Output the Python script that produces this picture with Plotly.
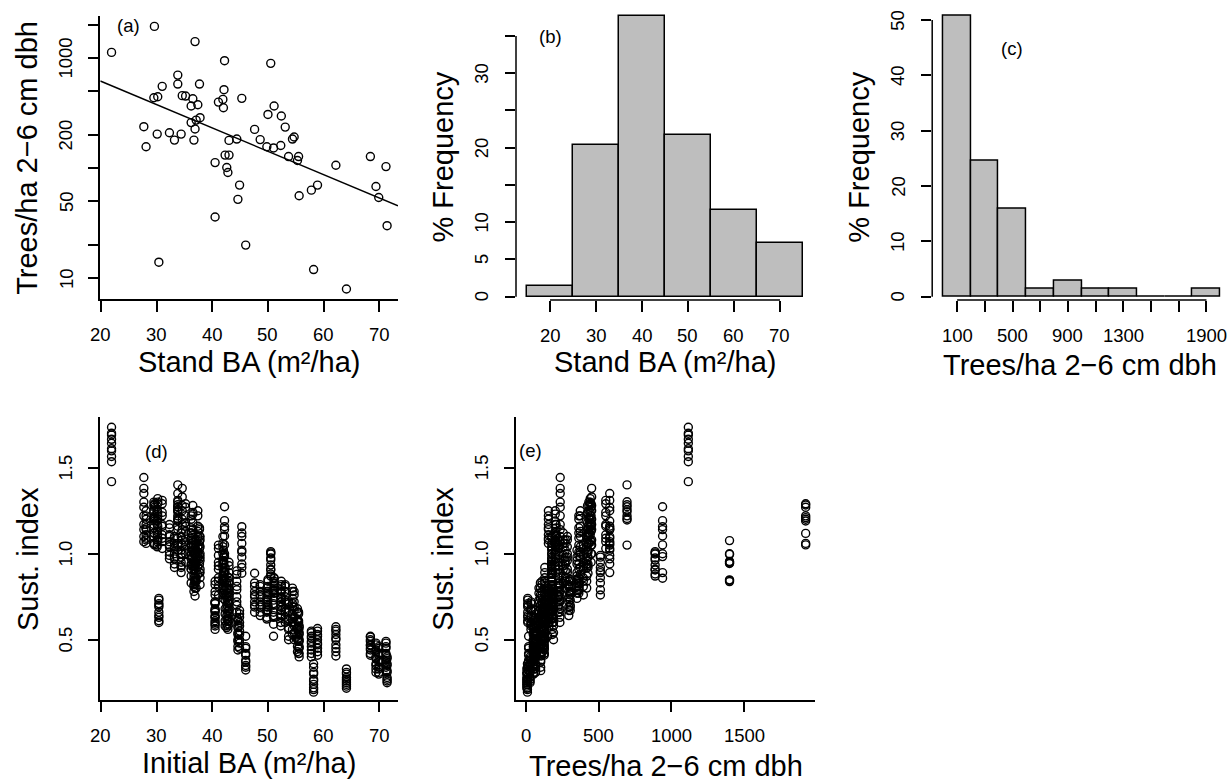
import numpy as np
import plotly.graph_objects as go

# ---- stand-level data (one entry per stand) ----
stand_ba = [21.9, 29.6, 36.9, 42.2, 50.5, 33.8, 33.8, 31.0, 37.7, 42.1,
            29.5, 30.2, 34.6, 35.2, 36.5, 37.4, 36.2, 41.1, 41.9, 42.0,
            45.3, 51.1, 50.0, 52.4, 53.1, 37.8, 37.1, 36.2, 36.9, 27.7,
            47.6, 30.1, 32.3, 34.4, 33.2, 36.7, 28.1, 43.0, 44.4, 48.6,
            49.8, 51.0, 52.3, 54.4, 54.7, 42.3, 43.0, 53.7, 55.3, 55.5,
            40.5, 42.6, 42.8, 62.2, 68.4, 71.2, 44.9, 58.9, 57.8, 69.4,
            69.9, 55.6, 44.6, 40.5, 71.4, 46.0, 30.4, 58.2, 64.1]

trees_ha = [1117, 1923, 1400, 940, 889, 696, 577, 550, 577, 513,
            434, 443, 453, 449, 425, 375, 365, 396, 419, 352,
            428, 365, 306, 296, 235, 286, 272, 258, 226, 237,
            224, 203, 209, 203, 179, 179, 156, 178, 183, 181,
            156, 152, 160, 183, 191, 131, 131, 127, 117, 127,
            112, 101, 91, 106, 127, 103, 70, 70, 63, 68,
            54, 56, 52, 36, 30, 20, 14, 12, 8]

# sustainability index of each simulation run, one row per stand
sust_index = [
    [1.735, 1.70, 1.69, 1.665, 1.642, 1.61, 1.598, 1.565, 1.535, 1.419],
    [1.29, 1.283, 1.27, 1.22, 1.21, 1.20, 1.19, 1.118, 1.06, 1.051],
    [1.076, 1.0, 0.996, 0.955, 0.951, 0.946, 0.943, 0.848, 0.845, 0.838],
    [1.273, 1.192, 1.157, 1.14, 1.103, 1.051, 1.0, 0.983, 0.89, 0.857],
    [1.012, 1.005, 0.998, 0.975, 0.963, 0.934, 0.91, 0.905, 0.882, 0.87],
    [1.40, 1.302, 1.285, 1.273, 1.255, 1.244, 1.22, 1.205, 1.196, 1.05],
    [1.35, 1.31, 1.27, 1.25, 1.19, 1.16, 1.14, 1.09, 1.06, 1.02],
    [1.31, 1.29, 1.24, 1.22, 1.17, 1.16, 1.11, 1.09, 1.07, 1.03],
    [1.15, 1.14, 1.10, 1.07, 1.05, 1.03, 0.99, 0.97, 0.94, 0.89],
    [0.99, 0.98, 0.95, 0.92, 0.90, 0.89, 0.86, 0.83, 0.79, 0.76],
    [1.30, 1.28, 1.25, 1.21, 1.20, 1.17, 1.15, 1.12, 1.10, 1.06],
    [1.32, 1.30, 1.29, 1.24, 1.22, 1.20, 1.16, 1.14, 1.11, 1.08],
    [1.38, 1.33, 1.28, 1.25, 1.20, 1.17, 1.14, 1.08, 1.05, 1.00],
    [1.29, 1.27, 1.22, 1.18, 1.16, 1.13, 1.07, 1.05, 1.00, 0.95],
    [1.28, 1.24, 1.23, 1.18, 1.14, 1.11, 1.08, 1.02, 0.98, 0.93],
    [1.25, 1.22, 1.16, 1.13, 1.10, 1.04, 1.01, 0.98, 0.92, 0.88],
    [1.22, 1.20, 1.15, 1.12, 1.09, 1.05, 1.01, 0.99, 0.94, 0.91],
    [1.05, 1.03, 0.99, 0.95, 0.93, 0.91, 0.86, 0.84, 0.81, 0.76],
    [1.10, 1.06, 1.04, 1.00, 0.96, 0.94, 0.92, 0.87, 0.84, 0.80],
    [1.02, 0.98, 0.96, 0.94, 0.89, 0.87, 0.85, 0.81, 0.77, 0.74],
    [1.157, 1.12, 1.10, 1.06, 1.02, 1.01, 0.98, 0.94, 0.92, 0.886],
    [0.86, 0.855, 0.84, 0.83, 0.825, 0.81, 0.80, 0.79, 0.785, 0.77],
    [0.85, 0.84, 0.81, 0.78, 0.77, 0.76, 0.73, 0.70, 0.69, 0.67],
    [0.84, 0.82, 0.81, 0.78, 0.75, 0.74, 0.72, 0.69, 0.67, 0.64],
    [0.82, 0.81, 0.78, 0.75, 0.73, 0.72, 0.68, 0.66, 0.63, 0.60],
    [1.10, 1.08, 1.04, 1.00, 0.98, 0.96, 0.91, 0.89, 0.86, 0.82],
    [1.08, 1.06, 1.02, 0.98, 0.96, 0.94, 0.90, 0.86, 0.84, 0.80],
    [1.12, 1.08, 1.06, 1.04, 0.99, 0.97, 0.93, 0.91, 0.87, 0.83],
    [1.05, 1.03, 0.99, 0.95, 0.93, 0.91, 0.86, 0.83, 0.80, 0.754],
    [1.443, 1.38, 1.35, 1.30, 1.27, 1.22, 1.17, 1.14, 1.10, 1.07],
    [0.886, 0.83, 0.81, 0.78, 0.76, 0.75, 0.72, 0.70, 0.69, 0.66],
    [1.25, 1.23, 1.19, 1.17, 1.13, 1.11, 1.08, 1.07, 1.05, 1.04],
    [1.17, 1.15, 1.11, 1.10, 1.07, 1.05, 1.04, 1.01, 0.99, 0.97],
    [1.12, 1.10, 1.06, 1.02, 1.00, 0.98, 0.95, 0.93, 0.92, 0.89],
    [1.10, 1.09, 1.06, 1.04, 1.03, 1.00, 0.98, 0.97, 0.94, 0.92],
    [1.02, 1.00, 0.96, 0.93, 0.91, 0.88, 0.86, 0.82, 0.81, 0.78],
    [1.25, 1.22, 1.20, 1.17, 1.15, 1.14, 1.11, 1.09, 1.08, 1.06],
    [0.95, 0.93, 0.89, 0.86, 0.84, 0.80, 0.77, 0.75, 0.71, 0.68],
    [0.90, 0.88, 0.84, 0.81, 0.79, 0.75, 0.72, 0.70, 0.66, 0.63],
    [0.82, 0.81, 0.78, 0.76, 0.75, 0.72, 0.70, 0.69, 0.66, 0.64],
    [0.80, 0.78, 0.75, 0.73, 0.72, 0.69, 0.67, 0.66, 0.63, 0.62],
    [0.78, 0.77, 0.73, 0.71, 0.70, 0.66, 0.64, 0.63, 0.59, 0.52],
    [0.79, 0.77, 0.74, 0.72, 0.70, 0.67, 0.65, 0.63, 0.60, 0.58],
    [0.80, 0.78, 0.74, 0.71, 0.69, 0.65, 0.62, 0.60, 0.56, 0.53],
    [0.78, 0.76, 0.72, 0.69, 0.67, 0.63, 0.60, 0.58, 0.54, 0.50],
    [0.92, 0.89, 0.84, 0.81, 0.76, 0.73, 0.68, 0.65, 0.61, 0.58],
    [0.86, 0.83, 0.79, 0.77, 0.73, 0.71, 0.67, 0.65, 0.61, 0.59],
    [0.72, 0.71, 0.67, 0.66, 0.62, 0.61, 0.57, 0.56, 0.52, 0.50],
    [0.68, 0.66, 0.62, 0.61, 0.57, 0.56, 0.52, 0.50, 0.46, 0.43],
    [0.66, 0.65, 0.61, 0.60, 0.56, 0.55, 0.51, 0.49, 0.45, 0.42],
    [0.84, 0.82, 0.78, 0.76, 0.72, 0.71, 0.67, 0.66, 0.63, 0.61],
    [0.83, 0.80, 0.76, 0.74, 0.70, 0.68, 0.64, 0.62, 0.59, 0.57],
    [0.80, 0.77, 0.73, 0.71, 0.67, 0.65, 0.62, 0.61, 0.58, 0.56],
    [0.575, 0.56, 0.55, 0.53, 0.51, 0.50, 0.47, 0.45, 0.43, 0.405],
    [0.52, 0.515, 0.50, 0.49, 0.47, 0.465, 0.45, 0.44, 0.42, 0.41],
    [0.49, 0.48, 0.46, 0.45, 0.42, 0.41, 0.38, 0.37, 0.34, 0.32],
    [0.67, 0.65, 0.63, 0.60, 0.58, 0.55, 0.53, 0.50, 0.48, 0.45],
    [0.565, 0.55, 0.53, 0.52, 0.50, 0.48, 0.47, 0.45, 0.43, 0.41],
    [0.55, 0.54, 0.52, 0.51, 0.49, 0.48, 0.46, 0.44, 0.42, 0.40],
    [0.48, 0.47, 0.44, 0.43, 0.40, 0.39, 0.36, 0.35, 0.33, 0.31],
    [0.46, 0.45, 0.42, 0.41, 0.38, 0.37, 0.34, 0.33, 0.31, 0.30],
    [0.58, 0.57, 0.54, 0.53, 0.50, 0.49, 0.46, 0.45, 0.42, 0.40],
    [0.62, 0.61, 0.58, 0.57, 0.54, 0.53, 0.50, 0.49, 0.46, 0.44],
    [0.72, 0.71, 0.68, 0.67, 0.64, 0.63, 0.60, 0.59, 0.58, 0.56],
    [0.40, 0.39, 0.36, 0.35, 0.32, 0.31, 0.28, 0.27, 0.26, 0.25],
    [0.52, 0.46, 0.45, 0.42, 0.41, 0.38, 0.37, 0.35, 0.34, 0.324],
    [0.74, 0.73, 0.71, 0.70, 0.69, 0.66, 0.64, 0.63, 0.61, 0.60],
    [0.36, 0.34, 0.31, 0.30, 0.27, 0.26, 0.24, 0.22, 0.21, 0.195],
    [0.33, 0.31, 0.30, 0.28, 0.27, 0.26, 0.25, 0.24, 0.23, 0.218],
]
assert len(stand_ba) == len(trees_ha) == len(sust_index)

# log10(trees/ha) = fit_intercept + fit_slope * BA
fit_intercept = 3.209
fit_slope = -0.02115

# histogram breaks
ba_breaks = [15, 25, 35, 45, 55, 65, 75]
trees_breaks = [0, 200, 400, 600, 800, 1000, 1200, 1400, 1600, 1800, 2000]

# axis ticks: labelled ticks and unlabelled ticks
ba_ticks = [20, 30, 40, 50, 60, 70]
trees_log_labelled = [10, 50, 200, 1000]
trees_log_plain = [20, 100, 500, 2000]
freq_b_labelled = [0, 5, 10, 20, 30]
freq_b_plain = [15, 25, 35]
freq_c_ticks = [0, 10, 20, 30, 40, 50]
trees_mid_labelled = [100, 500, 900, 1300, 1900]
trees_mid_plain = [300, 700, 1100, 1500, 1700]
sust_ticks = [0.5, 1.0, 1.5]
sust_labels = ["0.5", "1.0", "1.5"]
trees_lin_ticks = [0, 500, 1000, 1500]

# ---- layout constants ----
W, H = 1229, 782
FONT = "Liberation Sans, Arial, Helvetica, sans-serif"
LW = 1.5          # line width of axes, boxes and bar outlines
TL = 10.5         # tick length
TICK_FONT = 18.5
TITLE_FONT = 29
PANEL_FONT = 18.5
BAR_FILL = "#BEBEBE"
XLAB_GAP = 35.5   # axis line -> centre of x tick labels
YLAB_GAP = 34.5   # axis line -> centre of y tick labels

# plot regions in pixels: (left, right, top, bottom)
box_a = (100.3, 398.0, 15.7, 299.3)
box_b = (516.0, 814.0, 12.1, 300.0)
box_c = (932.2, 1229.0, 11.7, 300.0)
box_d = (100.3, 398.0, 417.3, 700.0)
box_e = (516.0, 815.0, 417.3, 700.0)

rng_ba = [19.88, 73.36]
rng_a_y = [0.8096, 3.381]          # log10 units
rng_b_x = [12.6, 77.4]
rng_b_y = [-0.443, 38.2]
rng_c_x = [-80, 2062.8]
rng_c_y = [-0.6, 51.5]
rng_sust = [0.1494, 1.793]
rng_e_x = [-66.6, 1987]


def hist_percent(values, breaks):
    """Right-closed bins like R's hist(); returns centres, widths, percents."""
    edges = np.asarray(breaks, dtype=float)
    v = np.asarray(values, dtype=float)
    idx = np.searchsorted(edges, v, side="left") - 1
    idx[idx < 0] = 0
    counts = np.bincount(idx, minlength=len(edges) - 1)[: len(edges) - 1]
    pct = 100.0 * counts / len(v)
    centres = (edges[:-1] + edges[1:]) / 2
    widths = np.diff(edges)
    return centres, widths, pct


def base_axis(rng, tickvals, anchor, showline):
    return dict(range=rng, tickvals=sorted(tickvals), showticklabels=False,
                ticks="outside", ticklen=TL, tickwidth=LW, tickcolor="black",
                showline=showline, linecolor="black", linewidth=LW,
                showgrid=False, zeroline=False, anchor=anchor)


def xaxis(box, rng, tickvals, anchor, showline):
    d = base_axis(rng, tickvals, anchor, showline)
    d["domain"] = [box[0] / W, min(box[1] / W, 1.0)]
    return d


def yaxis(box, rng, tickvals, anchor, showline, **kw):
    d = base_axis(rng, tickvals, anchor, showline)
    d["domain"] = [1 - box[3] / H, 1 - box[2] / H]
    d.update(kw)
    return d


marker = dict(symbol="circle-open", size=8, color="black",
              line=dict(width=1.4, color="black"))

fig = go.Figure()

# (a) stand BA vs small-tree density, log scale, with fitted line
fig.add_trace(go.Scatter(x=stand_ba, y=trees_ha, mode="markers",
                         marker=marker, xaxis="x", yaxis="y", cliponaxis=False))
fit_x = np.array(rng_ba)
fig.add_trace(go.Scatter(x=fit_x, y=10 ** (fit_intercept + fit_slope * fit_x),
                         mode="lines", line=dict(color="black", width=LW),
                         xaxis="x", yaxis="y"))

# (b) histogram of stand BA
cb, wb, pb = hist_percent(stand_ba, ba_breaks)
fig.add_trace(go.Bar(x=cb, y=pb, width=wb, xaxis="x2", yaxis="y2",
                     marker=dict(color=BAR_FILL,
                                 line=dict(color="black", width=LW))))

# (c) histogram of small-tree density
cc, wc, pc = hist_percent(trees_ha, trees_breaks)
fig.add_trace(go.Bar(x=cc, y=pc, width=wc, xaxis="x3", yaxis="y3",
                     marker=dict(color=BAR_FILL,
                                 line=dict(color="black", width=LW))))

# (d), (e) sustainability index of every run
run_ba = [ba for ba, row in zip(stand_ba, sust_index) for _ in row]
run_trees = [t for t, row in zip(trees_ha, sust_index) for _ in row]
run_sust = [v for row in sust_index for v in row]
fig.add_trace(go.Scatter(x=run_ba, y=run_sust, mode="markers", marker=marker,
                         xaxis="x4", yaxis="y4", cliponaxis=False))
fig.add_trace(go.Scatter(x=run_trees, y=run_sust, mode="markers", marker=marker,
                         xaxis="x5", yaxis="y5", cliponaxis=False))

# axis lines of the histograms span only the tick range
shapes = []
for xr, yr, xt, yt in (("x2", "y2", ba_ticks, freq_b_labelled + freq_b_plain),
                       ("x3", "y3", trees_mid_labelled + trees_mid_plain,
                        freq_c_ticks)):
    shapes.append(dict(type="line", xref=xr, yref=yr + " domain",
                       x0=min(xt), x1=max(xt), y0=0, y1=0,
                       line=dict(color="black", width=LW)))
    shapes.append(dict(type="line", xref=xr + " domain", yref=yr,
                       x0=0, x1=0, y0=min(yt), y1=max(yt),
                       line=dict(color="black", width=LW)))


def ann(text, px, py, size, angle=0):
    return dict(text=text, x=px / W, y=1 - py / H, xref="paper", yref="paper",
                showarrow=False, textangle=angle, xanchor="center",
                yanchor="middle",
                font=dict(family=FONT, size=size, color="black"))


def x_tick_labels(xref, vals, box, texts=None):
    texts = texts or [str(v) for v in vals]
    py = box[3] + XLAB_GAP
    return [dict(text=t, x=v, xref=xref, y=1 - py / H, yref="paper",
                 showarrow=False, xanchor="center", yanchor="middle",
                 font=dict(family=FONT, size=TICK_FONT, color="black"))
            for v, t in zip(vals, texts)]


def y_tick_labels(yref, vals, box, texts=None, log=False):
    texts = texts or [str(v) for v in vals]
    px = box[0] - YLAB_GAP
    return [dict(text=t, x=px / W, xref="paper",
                 y=float(np.log10(v)) if log else v, yref=yref,
                 showarrow=False, xanchor="center", yanchor="middle",
                 textangle=-90,
                 font=dict(family=FONT, size=TICK_FONT, color="black"))
            for v, t in zip(vals, texts)]


annotations = [
    ann("(a)", 128.3, 25, PANEL_FONT),
    ann("(b)", 550, 36, PANEL_FONT),
    ann("(c)", 1011.7, 48.3, PANEL_FONT),
    ann("(d)", 156, 451, PANEL_FONT),
    ann("(e)", 530, 450, PANEL_FONT),
    ann("Trees/ha 2\u22126 cm dbh", box_a[0] - 73, 157.5, TITLE_FONT, -90),
    ann("% Frequency", box_b[0] - 73, 157.5, TITLE_FONT, -90),
    ann("% Frequency", box_c[0] - 73, 157.5, TITLE_FONT, -90),
    ann("Sust. index", box_d[0] - 73, 558.7, TITLE_FONT, -90),
    ann("Sust. index", box_e[0] - 73, 558.7, TITLE_FONT, -90),
    ann("Stand BA (m\u00b2/ha)", (box_a[0] + box_a[1]) / 2, 361.6,
        TITLE_FONT),
    ann("Stand BA (m\u00b2/ha)", (box_b[0] + box_b[1]) / 2, 361.6,
        TITLE_FONT),
    ann("Trees/ha 2\u22126 cm dbh", 1080, 365, TITLE_FONT),
    ann("Initial BA (m\u00b2/ha)", (box_d[0] + box_d[1]) / 2, 763.3,
        TITLE_FONT),
    ann("Trees/ha 2\u22126 cm dbh", (box_e[0] + box_e[1]) / 2, 765.5,
        TITLE_FONT),
]
annotations += x_tick_labels("x", ba_ticks, box_a)
annotations += y_tick_labels("y", trees_log_labelled, box_a, log=True)
annotations += x_tick_labels("x2", ba_ticks, box_b)
annotations += y_tick_labels("y2", freq_b_labelled, box_b)
annotations += x_tick_labels("x3", trees_mid_labelled, box_c)
annotations += y_tick_labels("y3", freq_c_ticks, box_c)
annotations += x_tick_labels("x4", ba_ticks, box_d)
annotations += y_tick_labels("y4", sust_ticks, box_d, texts=sust_labels)
annotations += x_tick_labels("x5", trees_lin_ticks, box_e)
annotations += y_tick_labels("y5", sust_ticks, box_e, texts=sust_labels)

fig.update_layout(
    width=W, height=H, margin=dict(l=0, r=0, t=0, b=0),
    paper_bgcolor="white", plot_bgcolor="white", showlegend=False,
    bargap=0, shapes=shapes, annotations=annotations,
    xaxis=xaxis(box_a, rng_ba, ba_ticks, "y", True),
    yaxis=yaxis(box_a, rng_a_y, trees_log_labelled + trees_log_plain, "x",
                True, type="log"),
    xaxis2=xaxis(box_b, rng_b_x, ba_ticks, "y2", False),
    yaxis2=yaxis(box_b, rng_b_y, freq_b_labelled + freq_b_plain, "x2", False),
    xaxis3=xaxis(box_c, rng_c_x, trees_mid_labelled + trees_mid_plain, "y3",
                 False),
    yaxis3=yaxis(box_c, rng_c_y, freq_c_ticks, "x3", False),
    xaxis4=xaxis(box_d, rng_ba, ba_ticks, "y4", True),
    yaxis4=yaxis(box_d, rng_sust, sust_ticks, "x4", True),
    xaxis5=xaxis(box_e, rng_e_x, trees_lin_ticks, "y5", True),
    yaxis5=yaxis(box_e, rng_sust, sust_ticks, "x5", True),
)

fig.write_html("out.html")
